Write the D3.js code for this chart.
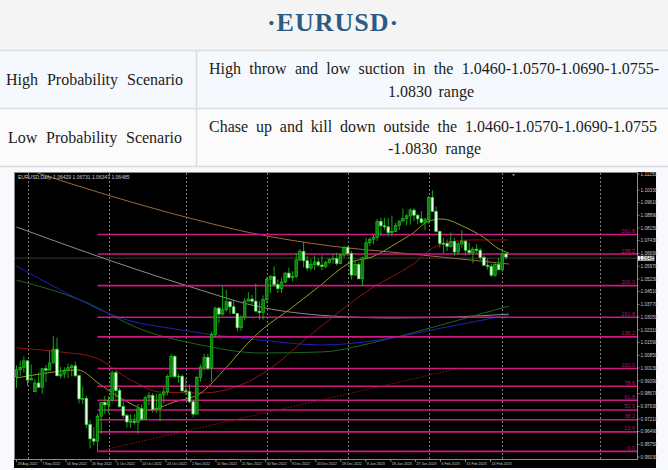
<!DOCTYPE html>
<html><head><meta charset="utf-8">
<script src="https://cdn.jsdelivr.net/npm/d3@7"></script>
<style>
html,body{margin:0;padding:0;background:#f7f9fc;}
svg{display:block;}
</style></head><body>
<svg id="c" width="668" height="470"></svg>
<script>
// ---------- DATA ----------
const title = "·EURUSD·";
const rowLabels = ["High Probability Scenario", "Low Probability Scenario"];
const rowLines1 = ["High throw and low suction in the 1.0460-1.0570-1.0690-1.0755-", "1.0830 range"];
const rowLines2 = ["Chase up and kill down outside the 1.0460-1.0570-1.0690-1.0755", "-1.0830 range"];
const chartHeader = "EURUSD,Daily  1.06429 1.06731 1.06347 1.06485";

// daily bars, 29 Aug 2022 (index 0) .. 2 Mar 2023 (index 133)
const opens = [
0.9962,1.0003,1.0017,1.0054,0.9944,0.9877,0.9927,0.9903,1.0009,1.0001,
1.0042,1.0121,0.9968,0.9979,0.9998,1.0015,1.0025,0.9969,0.9836,0.9838,
0.9689,0.9607,0.9594,0.9737,0.9815,0.9802,0.9826,0.9986,0.9885,0.9792,
0.9741,0.9704,0.9707,0.9702,0.9779,0.9720,0.9843,0.9856,0.9775,0.9780,
0.9860,0.9876,0.9965,1.0079,0.9964,0.9966,0.9882,0.9877,0.9820,0.9749,
0.9960,1.0018,1.0074,1.0012,1.0206,1.0356,1.0322,1.0347,1.0393,1.0364,
1.0325,1.0244,1.0305,1.0397,1.0408,1.0396,1.0339,1.0331,1.0405,1.0522,
1.0537,1.0491,1.0468,1.0506,1.0557,1.0531,1.0538,1.0632,1.0682,1.0628,
1.0586,1.0606,1.0621,1.0603,1.0595,1.0617,1.0636,1.0640,1.0612,1.0660,
1.0705,1.0670,1.0546,1.0607,1.0524,1.0644,1.0731,1.0751,1.0762,1.0853,
1.0828,1.0822,1.0789,1.0795,1.0830,1.0855,1.0870,1.0885,1.0918,1.0889,
1.0868,1.0848,1.0863,1.0990,1.0911,1.0796,1.0728,1.0727,1.0711,1.0739,
1.0678,1.0724,1.0740,1.0688,1.0674,1.0694,1.0688,1.0647,1.0602,1.0596,
1.0545,1.0606,1.0576,1.0667];
const highs = [
1.0028,1.0055,1.0079,1.0058,1.0033,0.9952,0.9988,1.0010,1.0030,1.0113,
1.0198,1.0187,1.0020,1.0018,1.0037,1.0034,1.0050,0.9976,0.9907,0.9853,
0.9713,0.9673,0.9750,0.9818,0.9853,0.9850,0.9999,0.9997,0.9899,0.9834,
0.9752,0.9749,0.9747,0.9807,0.9805,0.9852,0.9875,0.9870,0.9864,0.9870,
0.9904,0.9976,1.0094,1.0088,0.9978,0.9976,0.9954,0.9920,0.9830,0.9966,
1.0033,1.0095,1.0094,1.0222,1.0364,1.0366,1.0481,1.0460,1.0395,1.0404,
1.0328,1.0315,1.0413,1.0448,1.0432,1.0497,1.0395,1.0429,1.0535,1.0545,
1.0595,1.0520,1.0530,1.0562,1.0588,1.0568,1.0673,1.0695,1.0736,1.0654,
1.0638,1.0658,1.0639,1.0660,1.0628,1.0643,1.0668,1.0673,1.0670,1.0713,
1.0713,1.0684,1.0632,1.0621,1.0652,1.0760,1.0760,1.0777,1.0867,1.0875,
1.0874,1.0873,1.0887,1.0845,1.0859,1.0927,1.0895,1.0929,1.0929,1.0893,
1.0914,1.0873,1.0999,1.1033,1.0938,1.0800,1.0760,1.0750,1.0789,1.0760,
1.0735,1.0804,1.0745,1.0732,1.0707,1.0722,1.0700,1.0663,1.0640,1.0611,
1.0614,1.0645,1.0691,1.0673];
const lows = [
0.9899,0.9966,0.9987,0.9910,0.9943,0.9877,0.9900,0.9864,0.9930,0.9999,
1.0042,0.9967,0.9954,0.9955,0.9955,0.9965,0.9960,0.9810,0.9807,0.9669,
0.9552,0.9571,0.9536,0.9635,0.9749,0.9754,0.9817,0.9838,0.9786,0.9727,
0.9671,0.9670,0.9688,0.9632,0.9709,0.9713,0.9800,0.9757,0.9755,0.9706,
0.9810,0.9856,0.9963,0.9955,0.9928,0.9871,0.9859,0.9810,0.9730,0.9746,
0.9936,1.0000,1.0000,0.9935,1.0186,1.0271,1.0312,1.0336,1.0322,1.0325,
1.0223,1.0226,1.0288,1.0392,1.0376,1.0339,1.0290,1.0290,1.0385,1.0443,
1.0479,1.0443,1.0444,1.0499,1.0525,1.0510,1.0527,1.0625,1.0590,1.0569,
1.0574,1.0575,1.0592,1.0573,1.0585,1.0610,1.0610,1.0600,1.0610,1.0645,
1.0654,1.0520,1.0543,1.0523,1.0483,1.0641,1.0713,1.0722,1.0741,1.0768,
1.0805,1.0766,1.0766,1.0794,1.0803,1.0853,1.0830,1.0834,1.0856,1.0837,
1.0842,1.0804,1.0840,1.0908,1.0794,1.0706,1.0670,1.0684,1.0704,1.0656,
1.0660,1.0701,1.0660,1.0660,1.0613,1.0672,1.0632,1.0597,1.0577,1.0533,
1.0536,1.0574,1.0562,1.0635];
const closes = [
1.0003,1.0017,1.0054,0.9944,0.9954,0.9927,0.9903,1.0009,1.0001,1.0042,
1.0121,0.9968,0.9979,0.9998,1.0015,1.0025,0.9969,0.9836,0.9838,0.9689,
0.9607,0.9594,0.9737,0.9815,0.9802,0.9826,0.9986,0.9885,0.9792,0.9741,
0.9704,0.9707,0.9702,0.9779,0.9720,0.9843,0.9856,0.9775,0.9780,0.9860,
0.9876,0.9965,1.0079,0.9964,0.9966,0.9882,0.9877,0.9820,0.9749,0.9960,
1.0018,1.0074,1.0012,1.0206,1.0356,1.0322,1.0347,1.0393,1.0364,1.0325,
1.0244,1.0305,1.0397,1.0408,1.0396,1.0339,1.0331,1.0405,1.0522,1.0537,
1.0491,1.0468,1.0506,1.0557,1.0531,1.0538,1.0632,1.0682,1.0628,1.0586,
1.0606,1.0621,1.0603,1.0595,1.0617,1.0636,1.0640,1.0612,1.0660,1.0705,
1.0670,1.0546,1.0607,1.0524,1.0644,1.0731,1.0751,1.0762,1.0853,1.0828,
1.0822,1.0789,1.0795,1.0830,1.0855,1.0870,1.0885,1.0918,1.0889,1.0868,
1.0848,1.0863,1.0990,1.0911,1.0796,1.0728,1.0727,1.0711,1.0739,1.0678,
1.0724,1.0740,1.0688,1.0674,1.0694,1.0688,1.0647,1.0602,1.0596,1.0545,
1.0606,1.0576,1.0667,1.06485];

// moving averages: [bar index, price]
const maBrown = [[0,1.1171],[5.7,1.1131],[24.8,1.1004],[46.9,1.0873],[63.8,1.0787],[85.6,1.0712],[104.6,1.0672],[118.3,1.0643],[133.8,1.0609]];
const maGray  = [[0,1.0821],[33,1.0575],[50,1.0460],[63.8,1.0374],[85.6,1.0311],[101.9,1.0300],[118.3,1.0305],[133.8,1.0322]];
const maGreen = [[0,1.0517],[17.4,1.0403],[34.3,1.0231],[50.1,1.0145],[66.5,1.0099],[82.8,1.0105],[99.7,1.0173],[118.3,1.0277],[133.8,1.0368]];
const maBlue  = [[0,1.0598],[12,1.0460],[28.3,1.0300],[44.7,1.0231],[66.5,1.0173],[82.8,1.0145],[98.4,1.0173],[115.5,1.0242],[133.8,1.0317]];
const maRed   = [[0,1.0128],[12,1.0105],[21,1.0076],[31.1,0.9944],[39.2,0.9875],[50.1,0.9870],[61,0.9916],[69.2,1.0013],[78.2,1.0173],[96.5,1.0470],[107.4,1.0603],[114.7,1.0718],[123.7,1.0747],[133.5,1.0747]];
const maOlive = [[0,0.9956],[6.5,0.9979],[16.6,1.0002],[22.9,0.9916],[30.2,0.9818],[35.7,0.9772],[42.8,0.9818],[50.1,0.9870],[55.6,0.9984],[62.9,1.0156],[65.7,1.0214],[74.7,1.0357],[82,1.0477],[91,1.0620],[96.5,1.0649],[103.8,1.0735],[107.4,1.0781],[112,1.0855],[115.5,1.0867],[121.8,1.0821],[127.2,1.0758],[131.1,1.0695],[133.8,1.0672]];

const priceTicks = [0.95030,0.95750,0.96490,0.97210,0.97930,0.98670,0.99390,1.00130,1.00850,1.01590,1.02310,1.03050,1.03770,1.04510,1.05230,1.05970,1.06690,1.07430,1.08150,1.08890,1.09610,1.10330,1.11250];
const timeLabels = ["29 Aug 2022","7 Sep 2022","16 Sep 2022","26 Sep 2022","5 Oct 2022","14 Oct 2022","24 Oct 2022","2 Nov 2022","11 Nov 2022","21 Nov 2022","30 Nov 2022","9 Dec 2022","20 Dec 2022","29 Dec 2022","9 Jan 2023","18 Jan 2023","27 Jan 2023","6 Feb 2023","15 Feb 2023","24 Feb 2023"];
// label positions (in bar units)
const timeLabelIdx = [0,6.7,13.4,20.2,27,33.8,40.6,47.4,54.2,60.9,67.7,74.5,81.3,88.1,94.9,101.7,108.4,115.2,122,128.8];
const separatorIdx = [3,25,46,68,90,112,132,158.5];

const fibLevels = [0,0.236,0.382,0.5,0.618,0.786,1,1.382,1.618,2,2.382,2.618];
const fibLabels = ["0.0","23.6","38.2","50.0","61.8","78.6","100.0","138.2","161.8","200.0","238.2","261.8"];
const fibLow = 0.9535, fibHigh = 1.0010, fibStartIdx = 22, fibEndIdx = 120;
const lastPrice = 1.06485;

// ---------- DRAW ----------
const svg = d3.select("#c");
const W = 668;

// header / table
svg.append("rect").attr("x",0).attr("y",0).attr("width",W).attr("height",50).attr("fill","#f4f4f4");
svg.append("rect").attr("x",0).attr("y",51).attr("width",W).attr("height",57).attr("fill","#f5f8fd");
svg.append("rect").attr("x",0).attr("y",108).attr("width",W).attr("height",58).attr("fill","#fbfbfb");
[50.5,108.5,166.5].forEach(y=>svg.append("line").attr("x1",0).attr("x2",W).attr("y1",y).attr("y2",y).attr("stroke","#dcdcdc").attr("stroke-width",1.5));
svg.append("line").attr("x1",196.5).attr("x2",196.5).attr("y1",51).attr("y2",166).attr("stroke","#dcdcdc").attr("stroke-width",1.5);

svg.append("text").attr("x",333).attr("y",31).attr("text-anchor","middle")
  .attr("font-family","Liberation Serif").attr("font-weight","bold").attr("font-size",26)
  .attr("letter-spacing",1).attr("fill","#2b5b86").text(title);

function fitText(str, x0, x1, y){
  const t = svg.append("text").attr("x",x0).attr("y",y)
    .attr("font-family","Liberation Serif").attr("font-size",16).attr("fill","#1c1c1c").text(str);
  const w = t.node().getComputedTextLength();
  const n = (str.match(/ /g)||[]).length;
  if(n>0 && w < (x1-x0)) t.attr("word-spacing", ((x1-x0)-w)/n);
  return t;
}
fitText(rowLabels[0], 6, 183, 85);
fitText(rowLines1[0], 209, 659, 74);
fitText(rowLines1[1], 388, 474, 97);
fitText(rowLabels[1], 8, 182, 143);
fitText(rowLines2[0], 209, 657, 132);
fitText(rowLines2[1], 388, 481, 154);

// chart image
const CX0 = 14, CX1 = 656, CY0 = 172, CY1 = 468;
const PX0 = 15, PX1 = 637, PY0 = 173, PY1 = 459;
svg.append("rect").attr("x",CX0).attr("y",CY0).attr("width",CX1-CX0).attr("height",CY1-CY0).attr("fill","#000");

const x = d3.scaleLinear().domain([0,133]).range([16.5,506]);
const y = d3.scaleLinear().domain([0.9503,1.1125]).range([457,174]);

svg.append("defs").append("clipPath").attr("id","pc").append("rect")
  .attr("x",PX0).attr("y",PY0).attr("width",PX1-PX0).attr("height",PY1-PY0);
const g = svg.append("g").attr("clip-path","url(#pc)");

// period separators
g.selectAll(".sep").data(separatorIdx).enter().append("line")
  .attr("x1",d=>Math.round(x(d))+0.5).attr("x2",d=>Math.round(x(d))+0.5)
  .attr("y1",PY0).attr("y2",PY1).attr("stroke","#9a9a9a").attr("stroke-width",0.8).attr("stroke-dasharray","2,2");

// bid line
g.append("line").attr("x1",PX0).attr("x2",PX1).attr("y1",y(lastPrice)+1).attr("y2",y(lastPrice)+1)
  .attr("stroke","#3a3a3a").attr("stroke-width",1);

// moving averages
const line = d3.line().x(d=>x(d[0])).y(d=>y(d[1])).curve(d3.curveMonotoneX);
[[maBrown,"#a06a3a"],[maGray,"#8c8c8c"],[maGreen,"#1a6a1a"],[maBlue,"#2020b8"],[maRed,"#901414"],[maOlive,"#9a9a22"]]
  .forEach(([d,c])=>g.append("path").attr("d",line(d)).attr("fill","none").attr("stroke",c).attr("stroke-width",1));

// fibonacci
const fibPrice = l => fibLow + l*(fibHigh-fibLow);
g.selectAll(".fib").data(fibLevels).enter().append("line")
  .attr("x1",x(fibStartIdx)).attr("x2",PX1).attr("y1",d=>y(fibPrice(d))).attr("y2",d=>y(fibPrice(d)))
  .attr("stroke","#cc1a80").attr("stroke-width",1.6);
g.selectAll(".fibt").data(fibLevels).enter().append("text")
  .attr("x",PX1-2).attr("y",d=>y(fibPrice(d))-1.5).attr("text-anchor","end")
  .attr("font-family","Liberation Sans").attr("font-size",5.5).attr("fill","#b0156e")
  .text((d,i)=>fibLabels[i]);
g.append("line").attr("x1",x(fibStartIdx)).attr("y1",y(fibLow)).attr("x2",x(fibEndIdx)).attr("y2",y(fibHigh))
  .attr("stroke","#a01010").attr("stroke-width",1).attr("stroke-dasharray","1.5,1.5");

// candles
const idx = d3.range(opens.length);
g.selectAll(".wick").data(idx).enter().append("line")
  .attr("x1",i=>x(i)).attr("x2",i=>x(i)).attr("y1",i=>y(highs[i])).attr("y2",i=>y(lows[i]))
  .attr("stroke","#17b517").attr("stroke-width",0.9);
g.selectAll(".body").data(idx).enter().append("rect")
  .attr("x",i=>x(i)-1.3).attr("width",2.6)
  .attr("y",i=>y(Math.max(opens[i],closes[i])))
  .attr("height",i=>Math.max(0.8,Math.abs(y(opens[i])-y(closes[i]))))
  .attr("fill",i=>closes[i]>=opens[i]?"#0b7d0b":"#eeffee")
  .attr("stroke",i=>closes[i]>=opens[i]?"#19c019":"#33d433").attr("stroke-width",0.7);

// header text
svg.append("text").attr("x",18).attr("y",179).attr("font-family","Liberation Sans").attr("font-size",5)
  .attr("fill","#c8c8c8").text(chartHeader);

// shift marker
svg.append("path").attr("d",`M${x(133)+6},174 l3,0 l-1.5,2.5 z`).attr("fill","#8a8a8a");

// frame
svg.append("rect").attr("x",PX0-0.5).attr("y",PY0-0.5).attr("width",PX1-PX0+1).attr("height",PY1-PY0+1)
  .attr("fill","none").attr("stroke","#8a8a8a").attr("stroke-width",1);

// price axis
const pa = svg.append("g");
pa.selectAll("line").data(priceTicks).enter().append("line")
  .attr("x1",PX1).attr("x2",PX1+2.5).attr("y1",d=>y(d)).attr("y2",d=>y(d)).attr("stroke","#9a9a9a").attr("stroke-width",0.8);
pa.selectAll("text").data(priceTicks).enter().append("text")
  .attr("x",PX1+3.5).attr("y",d=>y(d)+1.6).attr("font-family","Liberation Sans").attr("font-size",4.7)
  .attr("fill","#c8c8c8").text(d=>d.toFixed(5));
const ly = y(lastPrice)+1;
pa.append("rect").attr("x",PX1+1).attr("y",ly-2.3).attr("width",16.5).attr("height",4.8).attr("fill","#ffffff");
pa.append("text").attr("x",PX1+2).attr("y",ly+1.6).attr("font-family","Liberation Sans").attr("font-size",4.6)
  .attr("fill","#000").text(lastPrice.toFixed(5));

// time axis
const ta = svg.append("g");
ta.selectAll("line").data(timeLabelIdx).enter().append("line")
  .attr("x1",d=>x(d)).attr("x2",d=>x(d)).attr("y1",PY1).attr("y2",PY1+3).attr("stroke","#9a9a9a").attr("stroke-width",0.8);
ta.selectAll("text").data(timeLabelIdx).enter().append("text")
  .attr("x",d=>x(d)+1).attr("y",PY1+6.3).attr("font-family","Liberation Sans").attr("font-size",4.1)
  .attr("textLength",(d,i)=>timeLabels[i].length>10?20:18).attr("lengthAdjust","spacingAndGlyphs")
  .attr("fill","#c8c8c8").text((d,i)=>timeLabels[i]);
</script>
</body></html>
